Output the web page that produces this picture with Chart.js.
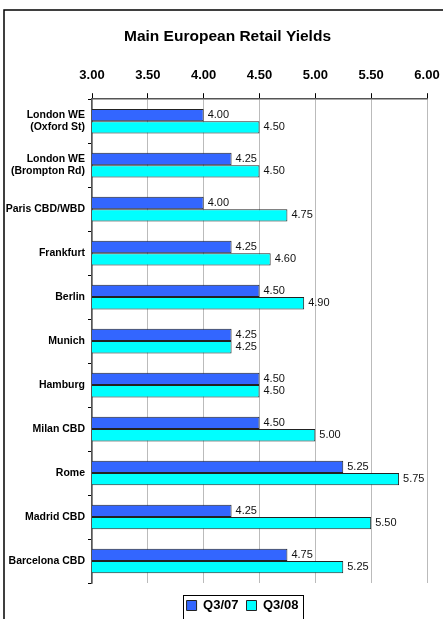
<!DOCTYPE html>
<html>
<head>
<meta charset="utf-8">
<script src="https://cdn.jsdelivr.net/npm/chart.js@4.4.0/dist/chart.umd.min.js"></script>
<style>
  html, body { margin: 0; padding: 0; background: #fff; overflow: hidden; }
  #wrap { width: 443px; height: 619px; overflow: hidden; }
</style>
</head>
<body>
<div id="wrap"><canvas id="myChart" width="443" height="640"></canvas></div>
<script>
const cities = [
  ['London WE', '(Oxford St)'],
  ['London WE', '(Brompton Rd)'],
  'Paris CBD/WBD',
  'Frankfurt',
  'Berlin',
  'Munich',
  'Hamburg',
  'Milan CBD',
  'Rome',
  'Madrid CBD',
  'Barcelona CBD'
];
const q307 = [4.00, 4.25, 4.00, 4.25, 4.50, 4.25, 4.50, 4.50, 5.25, 4.25, 4.75];
const q308 = [4.50, 4.50, 4.75, 4.60, 4.90, 4.25, 4.50, 5.00, 5.75, 5.50, 5.25];

const FONT = '"Liberation Sans", Arial, sans-serif';
const LEGEND_SHIFT = 21;
const LEGEND_DROP = 8;
const TITLE_SHIFT = 6;

// frame round the whole chart (it runs off the right and bottom edges)
const frame = {
  id: 'frame',
  afterLayout(chart) {
    // legend sits a bit right of centre and low in the original
    const lg = chart.legend;
    lg.left += LEGEND_SHIFT;
    lg.right += LEGEND_SHIFT;
    lg.top += LEGEND_DROP;
    lg.bottom += LEGEND_DROP;
    chart.titleBlock.left += TITLE_SHIFT;
    chart.titleBlock.right += TITLE_SHIFT;
  },
  beforeDraw(chart) {
    const c = chart.ctx;
    c.save();
    c.fillStyle = '#fff';
    c.fillRect(0, 0, chart.width, chart.height);
    c.strokeStyle = '#000';
    c.lineWidth = 1.5;
    c.strokeRect(4, 10, chart.width + 10, chart.height + 10);
    c.restore();
  },
  afterDraw(chart) {
    // box round the legend
    const boxes = chart.legend.legendHitBoxes;
    if (!boxes || !boxes.length) return;
    const l = Math.min(...boxes.map(b => b.left)) - 4;
    const r = Math.max(...boxes.map(b => b.left + b.width)) + 4;
    const t = Math.min(...boxes.map(b => b.top)) - 4;
    const c = chart.ctx;
    c.save();
    c.strokeStyle = '#000';
    c.lineWidth = 1;
    c.strokeRect(Math.round(l) + 0.5, Math.round(t) + 0.5, Math.round(r - l), 40);
    c.restore();
  }
};

// value labels at bar ends
const valueLabels = {
  id: 'valueLabels',
  afterDatasetsDraw(chart) {
    const c = chart.ctx;
    c.save();
    c.font = '11px ' + FONT;
    c.fillStyle = '#111';
    c.textBaseline = 'middle';
    chart.data.datasets.forEach((ds, i) => {
      chart.getDatasetMeta(i).data.forEach((bar, j) => {
        c.fillText(ds.data[j].toFixed(2), bar.x + 4, bar.y);
      });
    });
    c.restore();
  }
};

const ctx = document.getElementById('myChart').getContext('2d');
const myChart = new Chart(ctx, {
  type: 'bar',
  data: {
    labels: cities,
    datasets: [
      {
        label: 'Q3/07',
        data: q307,
        backgroundColor: '#3366FF',
        borderColor: '#222',
        borderWidth: 1,
        borderSkipped: false
      },
      {
        label: 'Q3/08',
        data: q308,
        backgroundColor: '#00FFFF',
        borderColor: '#222',
        borderWidth: 1,
        borderSkipped: false
      }
    ]
  },
  options: {
    indexAxis: 'y',
    responsive: false,
    animation: false,
    layout: { padding: { left: 0, right: 0, top: 27, bottom: 26 } },
    datasets: { bar: { categoryPercentage: 0.56, barPercentage: 1.0 } },
    scales: {
      x: {
        position: 'top',
        min: 3,
        max: 6,
        afterFit: s => { s.paddingRight = 16; },
        ticks: {
          stepSize: 0.5,
          color: '#000',
          padding: 10,
          font: { family: FONT, size: 13, weight: 'bold' },
          callback: v => v.toFixed(2)
        },
        grid: { color: '#bbb', tickColor: '#000', tickLength: 6, drawTicks: true },
        border: { color: '#555', width: 1.5 }
      },
      y: {
        afterFit: s => { s.width = 92; },
        ticks: {
          color: '#000',
          padding: 3,
          font: { family: FONT, size: 10.5, weight: 'bold' }
        },
        grid: { drawOnChartArea: false, tickColor: '#000', tickLength: 4 },
        border: { color: '#555', width: 1.5 }
      }
    },
    plugins: {
      title: {
        display: true,
        text: 'Main European Retail Yields',
        color: '#000',
        font: { family: FONT, size: 15.5, weight: 'bold' },
        padding: { top: 0, bottom: 12 }
      },
      legend: {
        position: 'bottom',
        labels: {
          color: '#000',
          boxWidth: 10,
          boxHeight: 10,
          padding: 8,
          font: { family: FONT, size: 13, weight: 'bold' }
        }
      },
      tooltip: { enabled: false }
    }
  },
  plugins: [frame, valueLabels]
});
</script>
</body>
</html>
